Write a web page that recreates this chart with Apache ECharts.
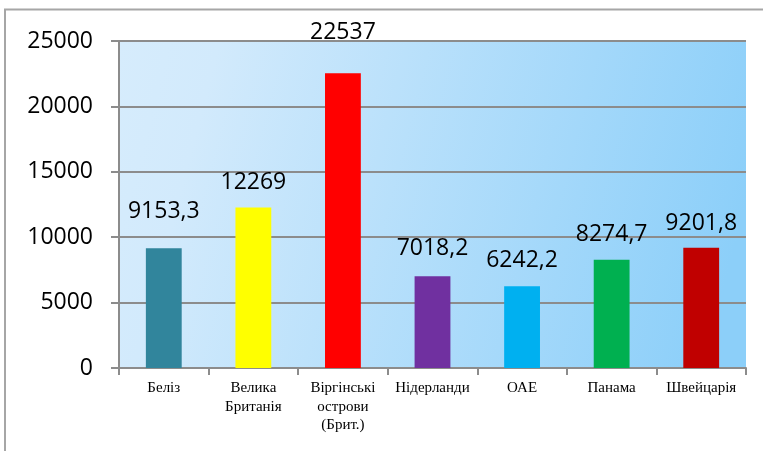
<!DOCTYPE html>
<html><head><meta charset="utf-8">
<script src="https://cdn.jsdelivr.net/npm/echarts@6/dist/echarts.min.js"></script>
<style>html,body{margin:0;padding:0;background:#fff}#c{width:763px;height:451px}</style>
</head><body><div id="c"></div>
<script>
const categories = ['Беліз', 'Велика\nБританія', 'Віргінські\nострови\n(Брит.)', 'Нідерланди', 'ОАЕ', 'Панама', 'Швейцарія'];
const values = [9153.3, 12269, 22537, 7018.2, 6242.2, 8274.7, 9201.8];
const colors = ['#31859C', '#FFFF00', '#FF0000', '#7030A0', '#00B0F0', '#00B050', '#C00000'];
const labelGaps = [25, 14, 29, 16, 14, 14, 13];

const chart = echarts.init(document.getElementById('c'), null, {renderer: 'canvas'});
chart.setOption({
  animation: false,
  graphic: [{
    type: 'rect', shape: {x: 5, y: 9.5, width: 800, height: 500},
    style: {fill: 'none', stroke: '#a6a6a6', lineWidth: 2}, z: -10
  }],
  grid: {
    left: 119, right: 17, top: 41, bottom: 83,
    show: true, borderWidth: 0,
    backgroundColor: new echarts.graphic.LinearGradient(0, 0, 1, 0.5, [
      {offset: 0, color: '#d6ecfc'},
      {offset: 0.15, color: '#d2eafc'},
      {offset: 1, color: '#8ccff9'}
    ])
  },
  xAxis: {
    type: 'category', data: categories,
    axisLine: {lineStyle: {color: '#8c8c8c', width: 2}},
    axisTick: {show: true, length: 7, lineStyle: {color: '#8c8c8c', width: 2}},
    axisLabel: {fontFamily: 'Liberation Serif', fontSize: 15, color: '#000', margin: 11, lineHeight: 18.5, interval: 0}
  },
  yAxis: {
    type: 'value', min: 0, max: 25000, interval: 5000,
    axisLine: {show: true, lineStyle: {color: '#8c8c8c', width: 2}},
    axisTick: {show: true, length: 8, lineStyle: {color: '#8c8c8c', width: 2}},
    splitLine: {lineStyle: {color: '#8c8c8c', width: 2}},
    axisLabel: {fontFamily: 'Open Sans', fontSize: 23, color: '#000', margin: 26, formatter: v => String(v)}
  },
  series: [{
    type: 'bar', barWidth: '40%',
    data: values.map((v, i) => ({value: v, itemStyle: {color: colors[i]}, label: {distance: labelGaps[i]}})),
    label: {
      show: true, position: 'top', distance: 14,
      fontFamily: 'Open Sans', fontSize: 23, color: '#000',
      formatter: p => String(p.value).replace('.', ',')
    }
  }]
});
</script></body></html>
